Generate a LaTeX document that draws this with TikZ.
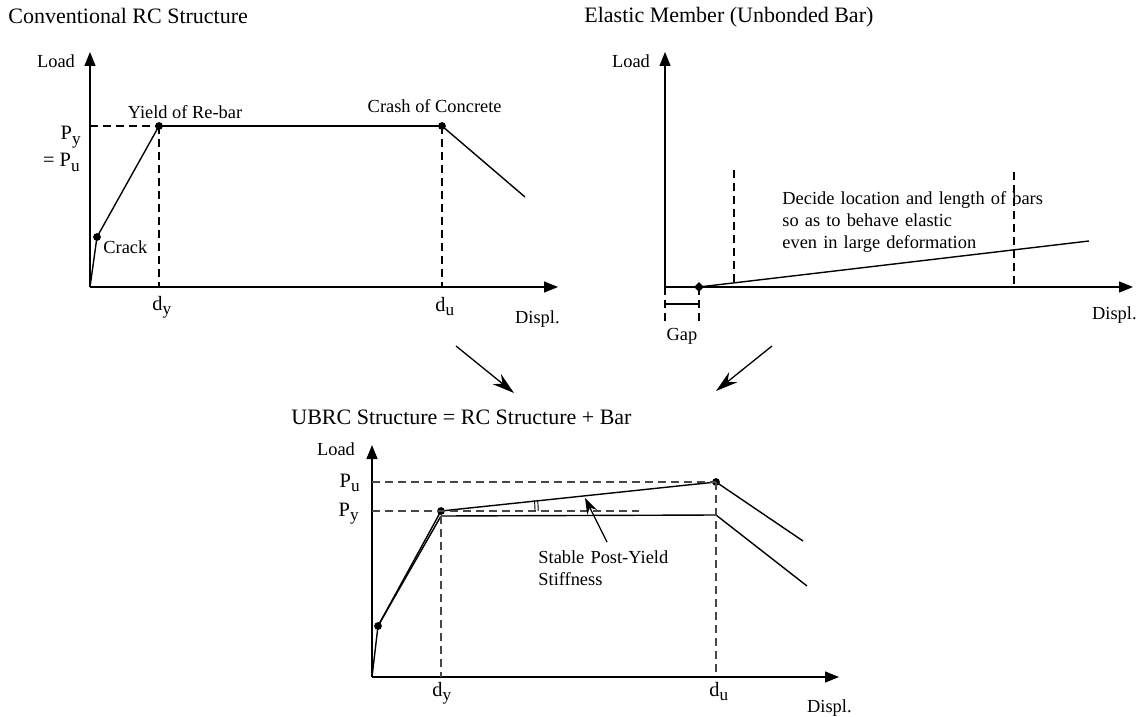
\documentclass[tikz,border=0pt]{standalone}
\usepackage{fontspec}
\setmainfont{Liberation Serif}
\usepackage{tikz}
\usetikzlibrary{arrows.meta,shapes.geometric}

\newcommand{\lowtxt}[1]{\raisebox{-2.2pt}{\fontsize{8.6}{9}\selectfont #1}}

\begin{document}
\begin{tikzpicture}[x=0.5pt,y=-0.5pt]
        \tikzstyle{every node} = [inner sep=0pt, font=\fontsize{9.2}{11}\selectfont]
        \tikzstyle{title} = [anchor=west, font=\fontsize{11}{13}\selectfont]
        \tikzstyle{big} = [font=\fontsize{10.2}{12}\selectfont]
        \tikzstyle{axis} = [line width=0.65pt, -{Triangle[length=7pt,width=5.5pt]}]
        \tikzstyle{curve} = [line width=0.7pt]
        \tikzstyle{guide} = [line width=0.6pt, dash pattern=on 4pt off 2.5pt]
        \tikzstyle{dot} = [circle, fill, minimum size=3.9pt]
        \useasboundingbox (0,0) rectangle (1143,716);

        % conventional RC structure
        \node[title] (t1) at (8,16) {Conventional RC Structure};
        \coordinate (o1) at (90,287);
        \coordinate (ly1) at (90,52);
        \coordinate (lx1) at (558,287);
        \coordinate (py1) at (90,126);
        \coordinate (dy1) at (159,287);
        \coordinate (du1) at (442,287);
        \coordinate (e1) at (525,197);
        \node[dot] (c1) at (97,237) {};
        \node[dot] (y1) at (159,126) {};
        \node[dot] (u1) at (442,126) {};
        \draw[axis] (o1) -- (ly1);
        \draw[axis] (o1) -- (lx1);
        \foreach \from/\to in {o1/c1.center, c1.center/y1.center, y1.center/u1.center, u1.center/e1}
            \draw[curve] (\from) -- (\to);
        \foreach \from/\to in {py1/y1.center, y1.center/dy1, u1.center/du1}
            \draw[guide] (\from) -- (\to);
        \node (load1) at (56,61) {Load};
        \node[big, anchor=base east] (lpy1) at (81,140) {P\lowtxt{y}};
        \node[big, anchor=base east] (lpu1) at (80,167) {= P\lowtxt{u}};
        \node[anchor=base] (lyld1) at (185,119) {Yield of Re-bar};
        \node[anchor=base east] (lcc1) at (502,113) {Crash of Concrete};
        \node[anchor=base west] (lck1) at (103,254) {Crack};
        \node[big, anchor=base west] (ldy1) at (152,310) {d\lowtxt{y}};
        \node[big, anchor=base west] (ldu1) at (435,311) {d\lowtxt{u}};
        \node[anchor=base east] (ldx1) at (560,323) {Displ.};

        % elastic member
        \node[title] (t2) at (584,17) {Elastic Member (Unbonded Bar)};
        \coordinate (o2) at (665,287);
        \coordinate (ly2) at (665,52);
        \coordinate (lx2) at (1133,287);
        \coordinate (e2) at (1089,241);
        \coordinate (v1a) at (734,170);
        \coordinate (v1b) at (734,287);
        \coordinate (v2a) at (1014,172);
        \coordinate (v2b) at (1014,287);
        \coordinate (gl) at (665,322);
        \coordinate (gr) at (699,322);
        \coordinate (gla) at (665,304);
        \coordinate (gra) at (699,304);
        \node[diamond, fill, minimum size=5pt] (g2) at (699,287) {};
        \draw[axis] (o2) -- (ly2);
        \draw[axis] (o2) -- (lx2);
        \draw[curve] (g2.center) -- (e2);
        \foreach \from/\to in {v1a/v1b, v2a/v2b, o2/gl, g2.center/gr}
            \draw[guide] (\from) -- (\to);
        \draw[line width=0.6pt] (gla) -- (gra);
        \node (load2) at (631,61) {Load};
        \node[anchor=base east] (ldx2) at (1137,319) {Displ.};
        \node (lgap) at (682,336) {Gap};
        \node[anchor=base west, text width=140pt, align=left] (note) at (782,205)
            {Decide location and length of bars\\so as to behave elastic\\even in large deformation};

        % from both to the combined one
        \coordinate (a1) at (456,346);
        \coordinate (a2) at (514,393);
        \coordinate (b1) at (772,346);
        \coordinate (b2) at (716,391);
        \foreach \from/\to in {a1/a2, b1/b2}
            \draw[line width=0.65pt, -{Stealth[length=11pt,width=6.5pt]}] (\from) -- (\to);

        % UBRC structure
        \node[title] (t3) at (291,417) {UBRC Structure = RC Structure + Bar};
        \coordinate (o3) at (372,677);
        \coordinate (ly3) at (372,445);
        \coordinate (lx3) at (839,677);
        \coordinate (pu3) at (372,482);
        \coordinate (py3) at (372,511);
        \coordinate (pe3) at (639,511);
        \coordinate (r3) at (441,516);
        \coordinate (q3) at (716,515);
        \coordinate (e3) at (803,541);
        \coordinate (f3) at (807,586);
        \coordinate (dy3) at (441,677);
        \coordinate (du3) at (716,677);
        \coordinate (s1) at (607,542);
        \coordinate (s2) at (585,498);
        \node[dot] (c3) at (378,626) {};
        \node[dot] (y3) at (441,511) {};
        \node[dot] (u3) at (716,482) {};
        \draw[axis] (o3) -- (ly3);
        \draw[axis] (o3) -- (lx3);
        \foreach \from/\to in {o3/c3.center, c3.center/y3.center, y3.center/u3.center, u3.center/e3,
                               c3.center/r3, r3/q3, q3/f3}
            \draw[curve] (\from) -- (\to);
        \foreach \from/\to in {pu3/u3.center, py3/pe3, r3/dy3, u3.center/du3}
            \draw[guide, line width=0.7pt, black!72] (\from) -- (\to);
        \draw[line width=0.45pt] (y3.center) ++(47pt,0) arc[start angle=0, end angle=6.5, radius=47pt];
        \draw[line width=0.45pt] (y3.center) ++(48.6pt,0) arc[start angle=0, end angle=6.5, radius=48.6pt];
        \draw[line width=0.65pt, -{Stealth[length=8pt,width=5.5pt]}] (s1) -- (s2);
        \node (load3) at (336,449) {Load};
        \node[big, anchor=base east] (lpu3) at (360,487) {P\lowtxt{u}};
        \node[big, anchor=base east] (lpy3) at (359,516) {P\lowtxt{y}};
        \node[big, anchor=base west] (ldy3) at (432,696) {d\lowtxt{y}};
        \node[big, anchor=base west] (ldu3) at (709,696) {d\lowtxt{u}};
        \node[anchor=base east] (ldx3) at (852,712) {Displ.};
        \node[anchor=base west, text width=100pt, align=left] (lstab) at (538,563)
            {Stable Post-Yield\\Stiffness};
\end{tikzpicture}
\end{document}
